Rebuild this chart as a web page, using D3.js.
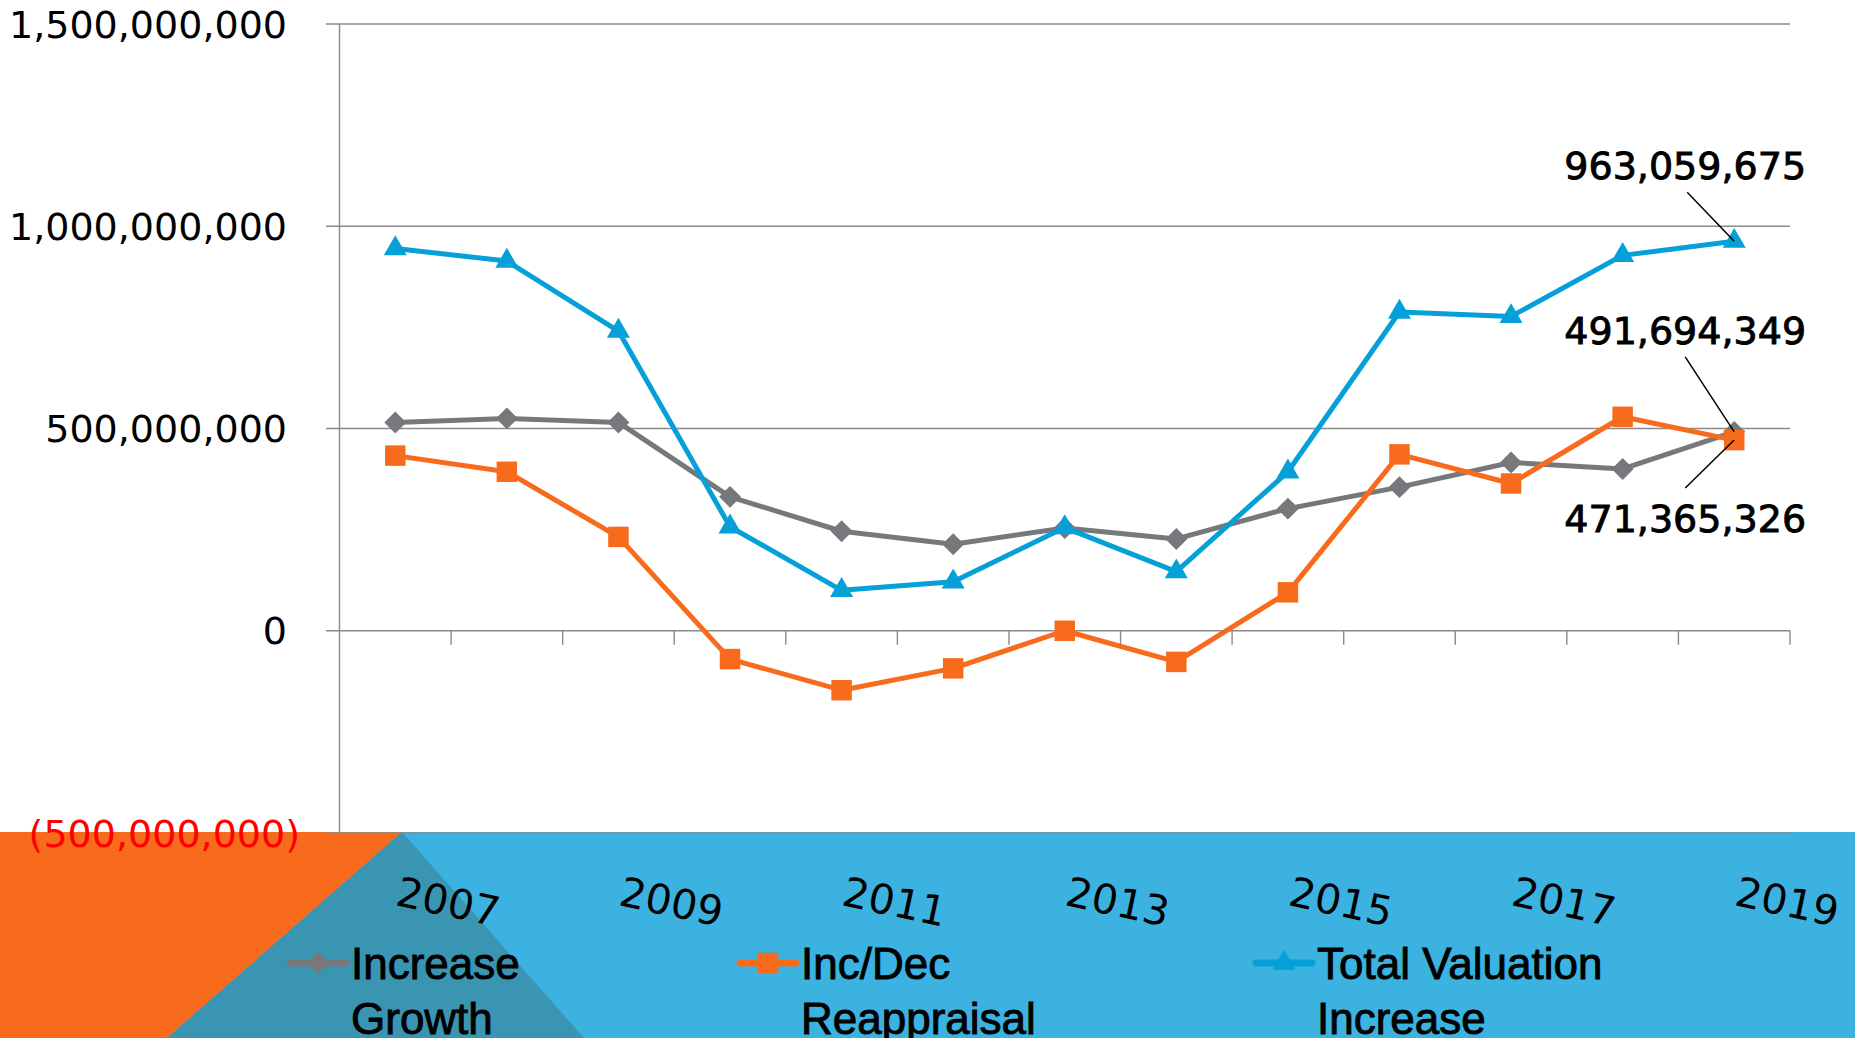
<!DOCTYPE html>
<html>
<head>
<meta charset="utf-8">
<script src="https://cdn.jsdelivr.net/npm/d3@7"></script>
<style>
  html, body { margin: 0; padding: 0; background: #ffffff; overflow: hidden; }
  svg { display: block; }
</style>
</head>
<body>
<svg id="chart" width="1855" height="1038"></svg>
<script>
// ---------- data ----------
const years = [2007, 2008, 2009, 2010, 2011, 2012, 2013, 2014, 2015, 2016, 2017, 2018, 2019];
const increaseGrowth = [515e6, 525e6, 515e6, 331e6, 246e6, 214e6, 254e6, 227e6, 302e6, 355e6, 416e6, 400e6, 491694349];
const incDecReappraisal = [433e6, 393e6, 232e6, -70e6, -147e6, -93e6, 0, -77e6, 95e6, 436e6, 364e6, 529e6, 471365326];
const totalValuation = [945e6, 914e6, 741e6, 257e6, 100e6, 121e6, 255e6, 146e6, 393e6, 788e6, 777e6, 928e6, 963059675];
const seriesNames = ["Increase Growth", "Inc/Dec Reappraisal", "Total Valuation Increase"];
const legendLines = [["Increase", "Growth"], ["Inc/Dec", "Reappraisal"], ["Total Valuation", "Increase"]];
const yTicks = [-500e6, 0, 500e6, 1000e6, 1500e6];
const xLabelYears = [2007, 2009, 2011, 2013, 2015, 2017, 2019];

// ---------- setup ----------
const W = 1855, H = 1038;
const svg = d3.select("#chart");
const colors = ["#77787b", "#f86b1d", "#05a0d8"];
const seriesData = [increaseGrowth, incDecReappraisal, totalValuation];
const markerTypes = ["diamond", "square", "triangle"];

const x = d3.scaleBand().domain(years).range([339.5, 1790]).paddingInner(0).paddingOuter(0);
const cx = d => x(d) + x.bandwidth() / 2;
const y = d3.scaleLinear().domain([-500e6, 1500e6]).range([833, 24]);

const fmt = d3.format(",");
const yFmt = v => v < 0 ? "(" + fmt(-v) + ")" : fmt(v);

// ---------- slide background band ----------
const bandTop = 832;
const bg = svg.append("g");
bg.append("rect").attr("x", 0).attr("y", bandTop).attr("width", W).attr("height", H - bandTop).attr("fill", "#3bb2df");
bg.append("path")
  .attr("d", `M0,${bandTop} L402,${bandTop} L167,${H} L0,${H} Z`)
  .attr("fill", "#f86b1d");
bg.append("path")
  .attr("d", `M402,${bandTop} L584,${H} L167,${H} Z`)
  .attr("fill", "#3a95b3");

// ---------- gridlines & axes ----------
const grid = svg.append("g");
grid.selectAll("line.grid").data(yTicks).join("line")
  .attr("class", "grid")
  .attr("x1", 326).attr("x2", 1790)
  .attr("y1", d => y(d)).attr("y2", d => y(d))
  .attr("stroke", "#8a8a8a").attr("stroke-width", 1.4);

// vertical axis
grid.append("line")
  .attr("x1", 339.5).attr("x2", 339.5)
  .attr("y1", y(1500e6)).attr("y2", y(-500e6))
  .attr("stroke", "#8a8a8a").attr("stroke-width", 1.4);

// horizontal axis at zero with ticks at band boundaries
const xAxisG = svg.append("g").attr("transform", `translate(0,${y(0)})`);
const boundaries = years.map(d => x(d) + x.bandwidth());
xAxisG.selectAll("line.tk").data(boundaries).join("line")
  .attr("class", "tk")
  .attr("x1", d => d).attr("x2", d => d)
  .attr("y1", 0).attr("y2", 14)
  .attr("stroke", "#8a8a8a").attr("stroke-width", 1.4);

// y tick labels
svg.append("g").selectAll("text").data(yTicks).join("text")
  .attr("x", d => d < 0 ? 300 : 287)
  .attr("y", d => y(d))
  .attr("dy", "0.36em")
  .attr("text-anchor", "end")
  .attr("font-family", "DejaVu Sans, sans-serif")
  .attr("font-size", 38)
  .attr("fill", d => d < 0 ? "#ff0000" : "#000000")
  .text(yFmt);

// x labels (rotated)
svg.append("g").selectAll("text").data(xLabelYears).join("text")
  .attr("transform", d => `translate(${cx(d) - 1},905) rotate(12)`)
  .attr("text-anchor", "start")
  .attr("font-family", "DejaVu Sans, sans-serif")
  .attr("font-size", 41)
  .attr("fill", "#000000")
  .text(d => d);

// ---------- series ----------
function markerPath(type) {
  if (type === "diamond") return d3.symbol().type(d3.symbolSquare).size(240)();
  if (type === "square") return d3.symbol().type(d3.symbolSquare).size(420)();
  return d3.symbol().type(d3.symbolTriangle).size(230)();
}

const line = d3.line().x((d, i) => cx(years[i])).y(d => y(d));
seriesData.forEach((vals, si) => {
  const g = svg.append("g");
  g.append("path")
    .attr("d", line(vals))
    .attr("fill", "none")
    .attr("stroke", colors[si])
    .attr("stroke-width", 5)
    .attr("stroke-linejoin", "round");
  g.selectAll("path.m").data(vals).join("path")
    .attr("class", "m")
    .attr("d", markerPath(markerTypes[si]))
    .attr("transform", (d, i) => `translate(${cx(years[i])},${y(d)})` + (markerTypes[si] === "diamond" ? " rotate(45)" : ""))
    .attr("fill", colors[si]);
});

// ---------- data labels for 2019 ----------
const last = years.length - 1;
const px = cx(years[last]);
const labels = [
  { v: totalValuation[last], dx: -49, dy: -62, lx: -47, ly: -49 },
  { v: increaseGrowth[last], dx: -49, dy: -88, lx: -49, ly: -75 },
  { v: incDecReappraisal[last], dx: -49, dy: 92, lx: -49, ly: 48 }
];
const lg = svg.append("g");
labels.forEach(l => {
  const py = y(l.v);
  lg.append("line")
    .attr("x1", px + l.lx).attr("y1", py + l.ly)
    .attr("x2", px).attr("y2", py)
    .attr("stroke", "#000").attr("stroke-width", 1.5);
  lg.append("text")
    .attr("x", px + l.dx).attr("y", py + l.dy)
    .attr("text-anchor", "middle")
    .attr("font-family", "DejaVu Sans, sans-serif")
    .attr("font-size", 38)
    .attr("fill", "#000")
    .attr("stroke", "#000").attr("stroke-width", 0.9)
    .text(fmt(l.v));
});

// ---------- legend ----------
const legendX = [290, 740, 1256];
const leg = svg.append("g");
seriesNames.forEach((name, si) => {
  const gx = legendX[si];
  const g = leg.append("g").attr("transform", `translate(${gx},963)`);
  g.append("line").attr("x1", 0).attr("x2", 56).attr("y1", 0).attr("y2", 0)
    .attr("stroke", colors[si]).attr("stroke-width", 7).attr("stroke-linecap", "round");
  g.append("path")
    .attr("d", markerPath(markerTypes[si]))
    .attr("transform", `translate(28,0)` + (markerTypes[si] === "diamond" ? " rotate(45)" : ""))
    .attr("fill", colors[si]);
  const t = g.append("text")
    .attr("x", 61).attr("y", 16)
    .attr("font-family", "Liberation Sans, Arial, sans-serif")
    .attr("font-size", 44)
    .attr("fill", "#000")
    .attr("stroke", "#000").attr("stroke-width", 0.9);
  legendLines[si].forEach((ln, li) => {
    t.append("tspan").attr("x", 61).attr("dy", li === 0 ? 0 : 55).text(ln);
  });
});
</script>
</body>
</html>
